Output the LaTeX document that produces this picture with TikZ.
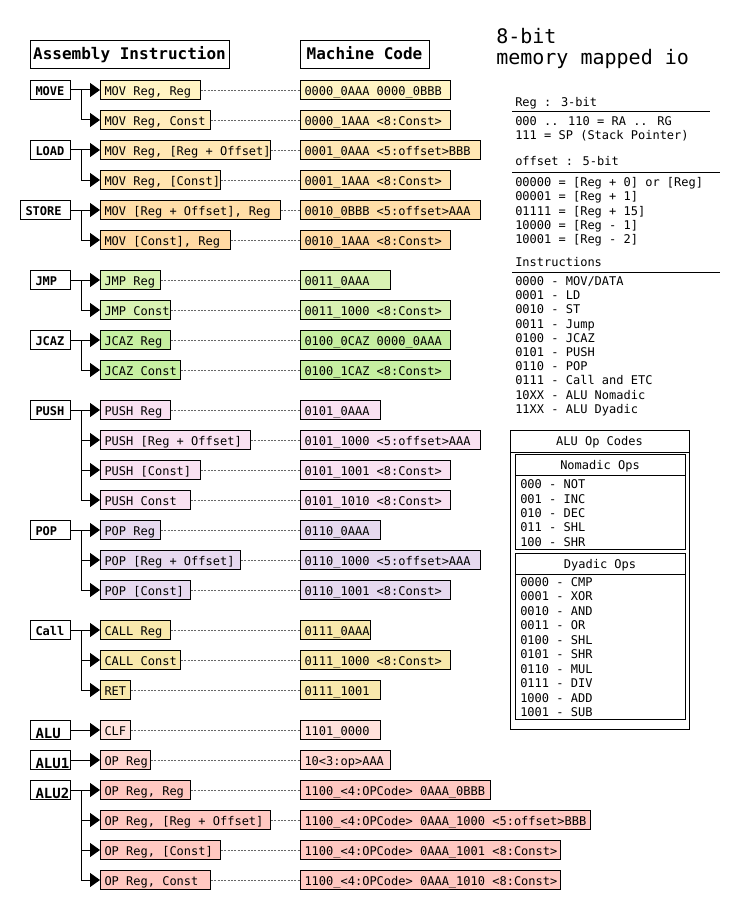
\documentclass[tikz,border=0pt]{standalone}
\usepackage{fontspec}
\setmainfont{DejaVu Sans Mono}
\usetikzlibrary{arrows.meta}
\definecolor{mvA}{HTML}{FFF4C4}
\definecolor{mvB}{HTML}{FFECBC}
\definecolor{mvC}{HTML}{FFE7B4}
\definecolor{mvD}{HTML}{FFE4B0}
\definecolor{mvE}{HTML}{FFDEA8}
\definecolor{mvF}{HTML}{FFDAA4}
\definecolor{jmpc}{HTML}{D9F2B3}
\definecolor{jcazc}{HTML}{C6EFA1}
\definecolor{pushc}{HTML}{F9E1F1}
\definecolor{popc}{HTML}{E6D9EF}
\definecolor{callc}{HTML}{F8E8AC}
\definecolor{aluc}{HTML}{FFE2DC}
\definecolor{aluac}{HTML}{FFD6D0}
\definecolor{alubc}{HTML}{FFC8C1}
\newcommand\instrow[7]{%
  \pgfmathsetmacro\lwa{#3*0.75-6}%
  \pgfmathsetmacro\lwb{#5*0.75-6}%
  \node[ibox, fill=#7] (a#1) at (100,#2) {\makebox[\lwa pt][l]{#4}};
  \node[ibox, fill=#7] (b#1) at (300,#2) {\makebox[\lwb pt][l]{#6}};
  \draw[dotl] (a#1.east) -- (b#1.west);
}
\newcommand\grpnode[6]{%
  \pgfmathsetmacro\lwg{#4*0.75-7.5}%
  \node[#6, minimum width=#4*0.75pt] (#1) at (#2,#3) {\makebox[\lwg pt][l]{#5}};
}
\begin{document}
\begin{tikzpicture}[x=0.75pt,y=-0.75pt,
  font=\fontsize{9}{10.8}\selectfont,
  ibox/.style={draw, line width=0.75pt, anchor=west, inner xsep=3pt, inner ysep=0pt,
    minimum height=14.25pt, text height=8.8pt, text depth=0pt},
  gbox/.style={draw, line width=0.75pt, fill=white, anchor=west, inner xsep=3.75pt, inner ysep=0pt,
    minimum height=14.25pt, text height=8.8pt, text depth=0pt, font=\fontsize{9}{10.8}\selectfont\bfseries},
  abox/.style={gbox, text height=12pt, font=\fontsize{10.5}{12}\selectfont\bfseries},
  hbox/.style={draw, line width=0.75pt, inner sep=0pt, minimum height=21pt,
    text height=7.5pt, text depth=0pt, font=\fontsize{12}{14}\selectfont\bfseries},
  conn/.style={line width=0.75pt, -{Triangle[length=7.5pt,width=10.5pt]}},
  dotl/.style={draw=black!60, line width=0.55pt, dash pattern=on 1.5pt off 1pt},
  lt/.style={anchor=base west, inner sep=0pt},
  ct/.style={anchor=base, inner sep=0pt},
  rl/.style={line width=0.75pt}]
\useasboundingbox (0,0) rectangle (740,920);

% headers
\node[hbox, minimum width=149.25pt] (hasm) at (129.5,55) {Assembly Instruction};
\node[hbox, minimum width=96.75pt] (hmc) at (364.5,55) {Machine Code};

% rows
\instrow{1}{90}{100}{MOV Reg, Reg}{150}{0000\_0AAA 0000\_0BBB}{mvA}
\instrow{2}{120}{110}{MOV Reg, Const}{150}{0000\_1AAA <8:Const>}{mvB}
\instrow{3}{150}{170}{MOV Reg, [Reg + Offset]}{180}{0001\_0AAA <5:offset>BBB}{mvC}
\instrow{4}{180}{120}{MOV Reg, [Const]}{150}{0001\_1AAA <8:Const>}{mvD}
\instrow{5}{210}{180}{MOV [Reg + Offset], Reg}{180}{0010\_0BBB <5:offset>AAA}{mvE}
\instrow{6}{240}{130}{MOV [Const], Reg}{150}{0010\_1AAA <8:Const>}{mvF}
\instrow{7}{280}{60}{JMP Reg}{90}{0011\_0AAA}{jmpc}
\instrow{8}{310}{70}{JMP Const}{150}{0011\_1000 <8:Const>}{jmpc}
\instrow{9}{340}{70}{JCAZ Reg}{150}{0100\_0CAZ 0000\_0AAA}{jcazc}
\instrow{10}{370}{80}{JCAZ Const}{150}{0100\_1CAZ <8:Const>}{jcazc}
\instrow{11}{410}{70}{PUSH Reg}{80}{0101\_0AAA}{pushc}
\instrow{12}{440}{150}{PUSH [Reg + Offset]}{180}{0101\_1000 <5:offset>AAA}{pushc}
\instrow{13}{470}{100}{PUSH [Const]}{150}{0101\_1001 <8:Const>}{pushc}
\instrow{14}{500}{90}{PUSH Const}{150}{0101\_1010 <8:Const>}{pushc}
\instrow{15}{530}{60}{POP Reg}{80}{0110\_0AAA}{popc}
\instrow{16}{560}{140}{POP [Reg + Offset]}{180}{0110\_1000 <5:offset>AAA}{popc}
\instrow{17}{590}{90}{POP [Const]}{150}{0110\_1001 <8:Const>}{popc}
\instrow{18}{630}{70}{CALL Reg}{70}{0111\_0AAA}{callc}
\instrow{19}{660}{80}{CALL Const}{150}{0111\_1000 <8:Const>}{callc}
\instrow{20}{690}{30}{RET}{80}{0111\_1001}{callc}
\instrow{21}{730}{30}{CLF}{80}{1101\_0000}{aluc}
\instrow{22}{760}{50}{OP Reg}{90}{10<3:op>AAA}{aluac}
\instrow{23}{790}{90}{OP Reg, Reg}{190}{1100\_<4:OPCode> 0AAA\_0BBB}{alubc}
\instrow{24}{820}{170}{OP Reg, [Reg + Offset]}{290}{1100\_<4:OPCode> 0AAA\_1000 <5:offset>BBB}{alubc}
\instrow{25}{850}{120}{OP Reg, [Const]}{260}{1100\_<4:OPCode> 0AAA\_1001 <8:Const>}{alubc}
\instrow{26}{880}{110}{OP Reg, Const}{260}{1100\_<4:OPCode> 0AAA\_1010 <8:Const>}{alubc}

% group labels
\grpnode{gmove}{30}{90}{40}{MOVE}{gbox}
\grpnode{gload}{30}{150}{40}{LOAD}{gbox}
\grpnode{gstore}{20}{210}{50}{STORE}{gbox}
\grpnode{gjmp}{30}{280}{40}{JMP}{gbox}
\grpnode{gjcaz}{30}{340}{40}{JCAZ}{gbox}
\grpnode{gpush}{30}{410}{40}{PUSH}{gbox}
\grpnode{gpop}{30}{530}{40}{POP}{gbox}
\grpnode{gcall}{30}{630}{40}{Call}{gbox}
\grpnode{galu}{30}{730}{40}{ALU}{abox}
\grpnode{galua}{30}{760}{40}{ALU1}{abox}
\grpnode{galub}{30}{790}{40}{ALU2}{abox}

% connectors
\draw[conn] (gmove.east) -- (a1.west);
\draw[conn] (gmove.east) -- ++(10,0) |- (a2.west);
\draw[conn] (gload.east) -- (a3.west);
\draw[conn] (gload.east) -- ++(10,0) |- (a4.west);
\draw[conn] (gstore.east) -- (a5.west);
\draw[conn] (gstore.east) -- ++(10,0) |- (a6.west);
\draw[conn] (gjmp.east) -- (a7.west);
\draw[conn] (gjmp.east) -- ++(10,0) |- (a8.west);
\draw[conn] (gjcaz.east) -- (a9.west);
\draw[conn] (gjcaz.east) -- ++(10,0) |- (a10.west);
\draw[conn] (gpush.east) -- (a11.west);
\draw[conn] (gpush.east) -- ++(10,0) |- (a12.west);
\draw[conn] (gpush.east) -- ++(10,0) |- (a13.west);
\draw[conn] (gpush.east) -- ++(10,0) |- (a14.west);
\draw[conn] (gpop.east) -- (a15.west);
\draw[conn] (gpop.east) -- ++(10,0) |- (a16.west);
\draw[conn] (gpop.east) -- ++(10,0) |- (a17.west);
\draw[conn] (gcall.east) -- (a18.west);
\draw[conn] (gcall.east) -- ++(10,0) |- (a19.west);
\draw[conn] (gcall.east) -- ++(10,0) |- (a20.west);
\draw[conn] (galu.east) -- (a21.west);
\draw[conn] (galua.east) -- (a22.west);
\draw[conn] (galub.east) -- (a23.west);
\draw[conn] (galub.east) -- ++(10,0) |- (a24.west);
\draw[conn] (galub.east) -- ++(10,0) |- (a25.west);
\draw[conn] (galub.east) -- ++(10,0) |- (a26.west);

% title
\node[lt, font=\fontsize{15}{18}\selectfont] (title1) at (496,43.3) {8-bit};
\node[lt, font=\fontsize{15}{18}\selectfont] (title2) at (496,65) {memory mapped io};

% Reg list
\node[lt] (regh) at (515,106.4) {Reg : 3-bit};
\draw[rl] (512,112) -- (710,112);
\node[lt] (reg1) at (515,125.4) {000 .. 110 = RA .. RG};
\node[lt] (reg2) at (515,139.6) {111 = SP (Stack Pointer)};

% offset list
\node[lt] (offh) at (515,165.4) {offset : 5-bit};
\draw[rl] (512,172) -- (720,172);
\foreach \t [count=\i from 0] in {{00000 = [Reg + 0] or [Reg]},{00001 = [Reg + 1]},{01111 = [Reg + 15]},{10000 = [Reg - 1]},{10001 = [Reg - 2]}}
  \node[lt] (off\i) at (515,186.4+\i*14.3) {\t};

% Instructions list
\node[lt] (insh) at (515,266.4) {Instructions};
\draw[rl] (512,272) -- (720,272);
\foreach \t [count=\i from 0] in {{0000 - MOV/DATA},{0001 - LD},{0010 - ST},{0011 - Jump},{0100 - JCAZ},{0101 - PUSH},{0110 - POP},{0111 - Call and ETC},{10XX - ALU Nomadic},{11XX - ALU Dyadic}}
  \node[lt] (ins\i) at (515,285.4+\i*14.22) {\t};

% ALU op codes
\draw[rl] (510,430) rectangle (689,729);
\draw[rl] (510,452) -- (689,452);
\node[ct] (aluh) at (599.5,445.4) {ALU Op Codes};
\draw[rl] (515,454) rectangle (685,549);
\draw[rl] (515,475.5) -- (685,475.5);
\node[ct] (nomh) at (600,469.4) {Nomadic Ops};
\foreach \t [count=\i from 0] in {{000 - NOT},{001 - INC},{010 - DEC},{011 - SHL},{100 - SHR}}
  \node[lt] (nom\i) at (520,488.8+\i*14.3) {\t};
\draw[rl] (515,553) rectangle (685,719);
\draw[rl] (515,574.5) -- (685,574.5);
\node[ct] (dyah) at (600,568) {Dyadic Ops};
\foreach \t [count=\i from 0] in {{0000 - CMP},{0001 - XOR},{0010 - AND},{0011 - OR},{0100 - SHL},{0101 - SHR},{0110 - MUL},{0111 - DIV},{1000 - ADD},{1001 - SUB}}
  \node[lt] (dya\i) at (520,586.4+\i*14.45) {\t};
\end{tikzpicture}
\end{document}
